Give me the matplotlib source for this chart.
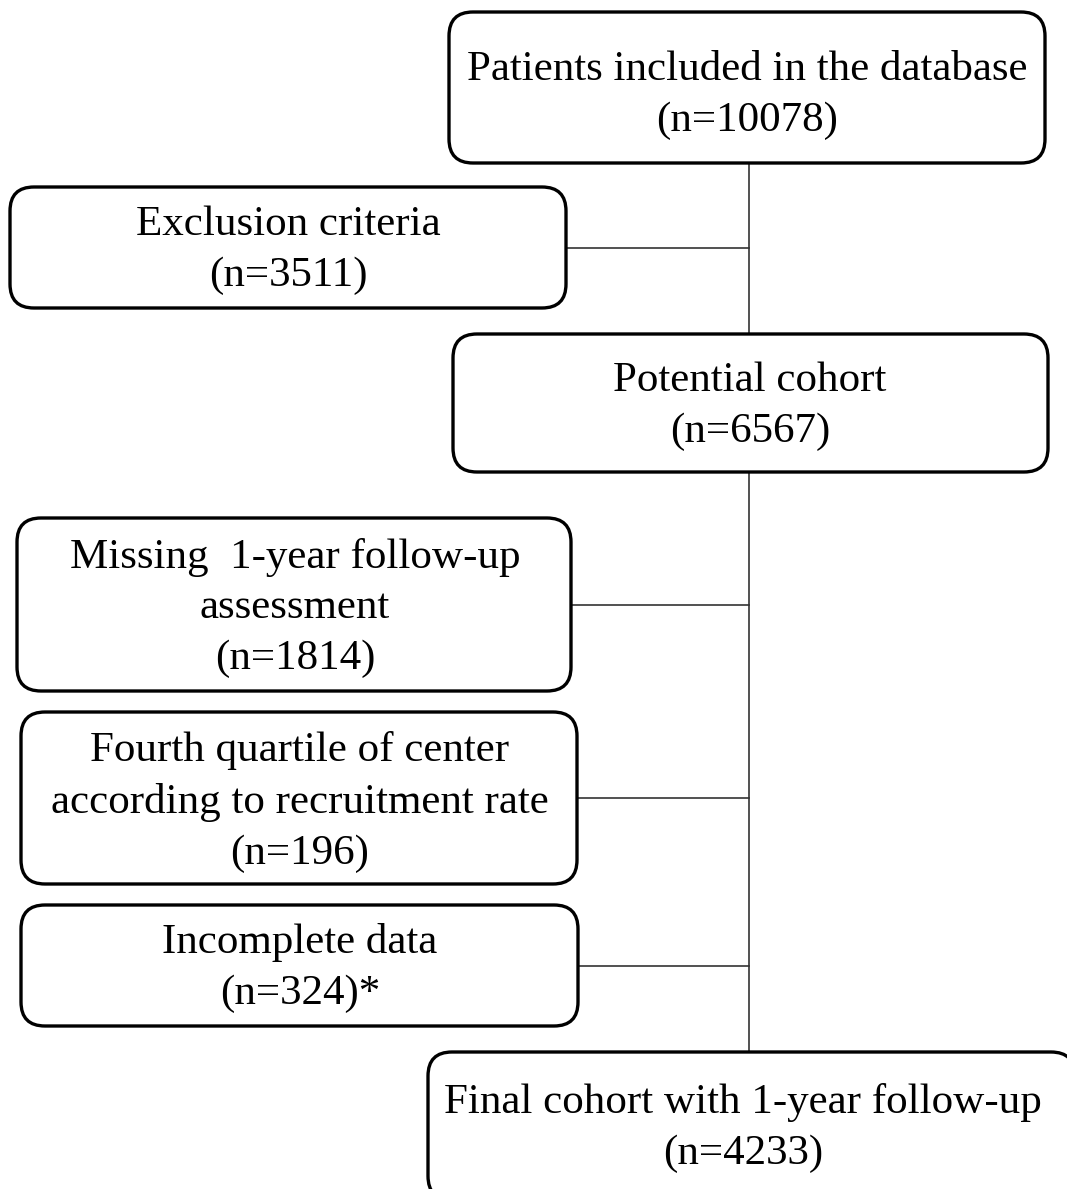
import matplotlib.pyplot as plt
from matplotlib.patches import FancyBboxPatch

# flowchart text
main_labels = ["Patients included in the database\n(n=10078)",
               "Potential cohort\n(n=6567)",
               "Final cohort with 1-year follow-up\n(n=4233)"]
excl_labels = ["Exclusion criteria\n(n=3511)",
               "Missing  1-year follow-up\nassessment\n(n=1814)",
               "Fourth quartile of center\naccording to recruitment rate\n(n=196)",
               "Incomplete data\n(n=324)*"]

# layout in pixels (x0, y0, x1, y1)
main_boxes = [(449, 12, 1045, 163), (453, 334, 1048, 472), (428, 1052, 1075, 1200)]
main_text_xy = [(747, 95), (750, 406), (743, 1128)]
excl_boxes = [(10, 187, 566, 308), (17, 518, 571, 691), (21, 712, 577, 884), (21, 905, 578, 1026)]
excl_text_xy = [(288, 250), (295, 608), (300, 802), (300, 968)]
trunk_x = 749

fig = plt.figure(figsize=(10.67, 11.89), dpi=100)
ax = fig.add_axes([0, 0, 1, 1])
ax.set_xlim(0, 1067)
ax.set_ylim(1189, 0)
ax.axis("off")

fs = 31
font = "Liberation Serif"

def box(b, label, txy):
    x0, y0, x1, y1 = b
    p = FancyBboxPatch((x0, y0), x1 - x0, y1 - y0,
                       boxstyle="round,pad=0,rounding_size=24",
                       fc="white", ec="black", lw=2.4, zorder=3)
    ax.add_patch(p)
    ax.text(txy[0], txy[1], label, ha="center", va="center",
            fontsize=fs, family=font, linespacing=1.42, zorder=4)

# vertical trunk
ax.plot([trunk_x, trunk_x], [163, 334], color="#333333", lw=1.2, zorder=1)
ax.plot([trunk_x, trunk_x], [472, 1052], color="#333333", lw=1.2, zorder=1)

for b, lab, txy in zip(main_boxes, main_labels, main_text_xy):
    box(b, lab, txy)

for b, lab, txy in zip(excl_boxes, excl_labels, excl_text_xy):
    ax.plot([b[2], trunk_x], [(b[1] + b[3]) / 2, (b[1] + b[3]) / 2],
            color="#333333", lw=1.2, zorder=1)
    box(b, lab, txy)

fig.savefig("out.png", dpi=100)
